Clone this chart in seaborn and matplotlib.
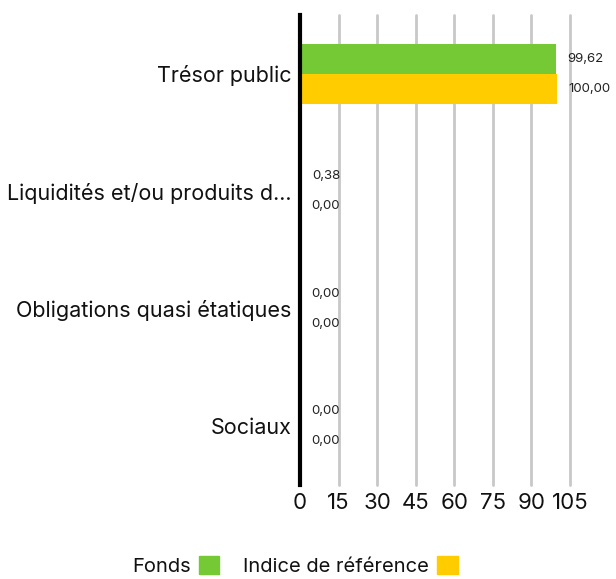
import matplotlib
matplotlib.use("Agg")
import matplotlib.pyplot as plt
import seaborn as sns
import pandas as pd

categories = ["Trésor public", "Liquidités et/ou produits d…", "Obligations quasi étatiques", "Sociaux"]
fonds = [99.62, 0.38, 0.00, 0.00]
indice = [100.00, 0.00, 0.00, 0.00]
series_names = ["Fonds", "Indice de référence"]
xticks = [0, 15, 30, 45, 60, 75, 90, 105]

df = pd.DataFrame({
    "cat": categories * 2,
    "val": fonds + indice,
    "serie": [series_names[0]] * 4 + [series_names[1]] * 4,
})

sns.set_style("white")
plt.rcParams["font.family"] = ["Inter", "DejaVu Sans"]
plt.rcParams["text.color"] = "#111111"
plt.rcParams["xtick.color"] = "#111111"
plt.rcParams["ytick.color"] = "#111111"

fig = plt.figure(figsize=(6.16, 5.79), dpi=100)
ax = fig.add_axes([300 / 616, 1 - 485 / 579, 270 / 616, 470 / 579])

palette = {"Fonds": "#74C935", "Indice de référence": "#FFCC00"}
sns.barplot(data=df, y="cat", x="val", hue="serie", palette=palette,
            orient="h", width=0.51, ax=ax, legend=False, saturation=1,
            linewidth=0, zorder=3)

ax.set_xlim(0, 105)
ax.set_ylim(3.5, -0.5)
ax.set_xticks(xticks)
ax.set_xticklabels([str(t) for t in xticks], fontsize=16)
ax.tick_params(axis="x", length=0, pad=6)
ax.tick_params(axis="y", length=0, pad=6, labelsize=15.5)
ax.set_xlabel("")
ax.set_ylabel("")
for x in xticks[1:]:
    ax.axvline(x, color="#c8c8c8", lw=2, zorder=1, clip_on=False)
for s in ["top", "right", "bottom"]:
    ax.spines[s].set_visible(False)
ax.spines["left"].set_linewidth(3)
ax.spines["left"].set_color("black")
ax.spines["left"].set_zorder(5)

for cont in ax.containers:
    labels = [f"{v:.2f}".replace(".", ",") for v in cont.datavalues]
    ax.bar_label(cont, labels=labels, padding=8, fontsize=9.5, color="#222222")

from matplotlib.patches import Patch
handles = [Patch(color=palette[n], label=n) for n in series_names]
fig.legend(handles=handles, loc="center", bbox_to_anchor=(295 / 616, 1 - 566 / 579),
           ncol=2, frameon=False, markerfirst=False, fontsize=14.5,
           handlelength=1.0, handleheight=1.0, columnspacing=1.2, handletextpad=0.4)

fig.savefig("out.png", dpi=100)
